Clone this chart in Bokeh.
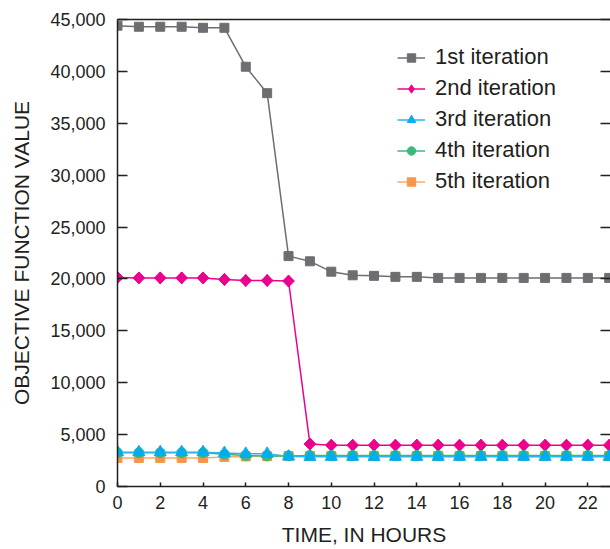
import math
from bokeh.plotting import figure
from bokeh.models import (Range1d, LinearAxis, Legend, LegendItem,
                          NumeralTickFormatter, FixedTicker)
from bokeh.embed import file_html
from bokeh.resources import INLINE

# Hourly objective-function values for each optimisation pass
hours = list(range(24))
iter_1st = [44400, 44300, 44300, 44300, 44200, 44200, 40450, 37900, 22200, 21700,
            20700, 20350, 20300, 20200, 20200, 20100, 20100, 20100, 20100, 20100,
            20100, 20100, 20100, 20100]
iter_2nd = [20150, 20100, 20100, 20100, 20100, 19950, 19850, 19850, 19800, 4100,
            3980, 3980, 3980, 3980, 3980, 3980, 3980, 3980, 3980, 3980,
            3980, 3980, 3980, 3980]
iter_3rd = [3300, 3300, 3300, 3300, 3300, 3220, 3150, 3150, 2880, 2860,
            2860, 2860, 2860, 2860, 2860, 2860, 2860, 2860, 2860, 2860,
            2860, 2860, 2860, 2860]
iter_4th = [3250, 3250, 3250, 3250, 3250, 3100, 2980, 2950, 2950, 2980,
            2980, 2980, 2980, 2980, 2980, 2980, 2980, 2980, 2980, 2980,
            2980, 2980, 2980, 2980]
iter_5th = [2750, 2750, 2750, 2750, 2750, 2850, 2900, 2920, 2940, 2950,
            2950, 2950, 2950, 2950, 2950, 2950, 2950, 2950, 2950, 2950,
            2950, 2950, 2950, 2950]

labels = ["1st iteration", "2nd iteration", "3rd iteration", "4th iteration", "5th iteration"]
x_ticks = list(range(0, 24, 2))
y_ticks = list(range(0, 45001, 5000))

FONT = "Liberation Sans"
TEXT = "#231f20"

p = figure(frame_width=493, frame_height=467,
           x_range=Range1d(0, 23.06), y_range=Range1d(0, 45000),
           output_backend="svg", toolbar_location=None,
           min_border_left=117, min_border_top=19, min_border_bottom=63,
           min_border_right=0, outline_line_color=None)
p.grid.visible = False
p.background_fill_color = "white"
p.border_fill_color = "white"

# bottom axis
xa = p.xaxis[0]
xa.ticker = FixedTicker(ticks=x_ticks)
xa.axis_label = "TIME, IN HOURS"
xa.major_tick_in = 4
xa.major_tick_out = 0
xa.minor_tick_in = 0
xa.minor_tick_out = 0
xa.major_label_standoff = 9
xa.axis_label_standoff = 11

# left axis
ya = p.yaxis[0]
ya.ticker = FixedTicker(ticks=y_ticks)
ya.formatter = NumeralTickFormatter(format="0,0")
ya.axis_label = "OBJECTIVE FUNCTION VALUE"
ya.major_tick_in = 10
ya.major_tick_out = 0
ya.minor_tick_in = 0
ya.minor_tick_out = 0
ya.major_label_standoff = 12
ya.axis_label_standoff = 14

for ax in (xa, ya):
    ax.axis_line_color = TEXT
    ax.axis_line_width = 1.5
    ax.major_tick_line_color = TEXT
    ax.major_tick_line_width = 1.5
    ax.major_label_text_font = FONT
    ax.major_label_text_font_size = "18px"
    ax.major_label_text_color = TEXT
    ax.axis_label_text_font = FONT
    ax.axis_label_text_font_size = "21px"
    ax.axis_label_text_font_style = "normal"
    ax.axis_label_text_color = TEXT

# top border line
top = LinearAxis(ticker=FixedTicker(ticks=[]), major_tick_in=0, major_tick_out=0,
                 minor_tick_in=0, minor_tick_out=0, major_label_standoff=0,
                 axis_line_color=TEXT, axis_line_width=1.5)
p.add_layout(top, "above")

# right-hand inward ticks, no labels
right = LinearAxis(ticker=FixedTicker(ticks=y_ticks), major_tick_in=10, major_tick_out=0,
                   minor_tick_in=0, minor_tick_out=0,
                   major_label_overrides={t: "" for t in y_ticks},
                   major_label_standoff=0, axis_line_color=None,
                   major_tick_line_color=TEXT, major_tick_line_width=1.5)
p.add_layout(right, "right")

PINK = "#ec008c"

# the legend does not rotate markers, so the 2nd-iteration key uses this diamond,
# drawn first so the rotated squares below cover it in the plot area
key_diamond = p.scatter(hours, iter_2nd, marker="diamond", size=12,
                        fill_color=PINK, line_color=PINK)

# (values, marker colour, line colour, marker, size, angle)
series = [
    (iter_1st, "#6d6e71", "#6d6e71", "square", 9, 0),
    (iter_2nd, PINK, PINK, "square", 8.3, math.pi / 4),
    (iter_5th, "#f7964a", "#f9a870", "square", 9, 0),
    (iter_4th, "#3cb878", "#3cb878", "circle", 10, 0),
    (iter_3rd, "#00aeef", "#29b6f0", "triangle", 12, 0),
]
renderers = {}
for vals, mcol, lcol, mk, sz, ang in series:
    ln = p.line(hours, vals, line_color=lcol, line_width=1.5)
    sc = p.scatter(hours, vals, marker=mk, size=sz, angle=ang,
                   fill_color=mcol, line_color=mcol)
    renderers[id(vals)] = [ln, sc]

renderers[id(iter_2nd)] = [renderers[id(iter_2nd)][0], key_diamond]

order = [iter_1st, iter_2nd, iter_3rd, iter_4th, iter_5th]
items = [LegendItem(label=lab, renderers=renderers[id(v)]) for lab, v in zip(labels, order)]
legend = Legend(items=items, location=(280, 292), padding=0, margin=0,
                glyph_width=28, glyph_height=21, label_height=21, spacing=5,
                label_standoff=10, border_line_color=None, background_fill_alpha=0,
                label_text_font=FONT, label_text_font_size="22px", label_text_color=TEXT)
p.add_layout(legend, "center")

open("out.html", "w").write(file_html(p, INLINE))
